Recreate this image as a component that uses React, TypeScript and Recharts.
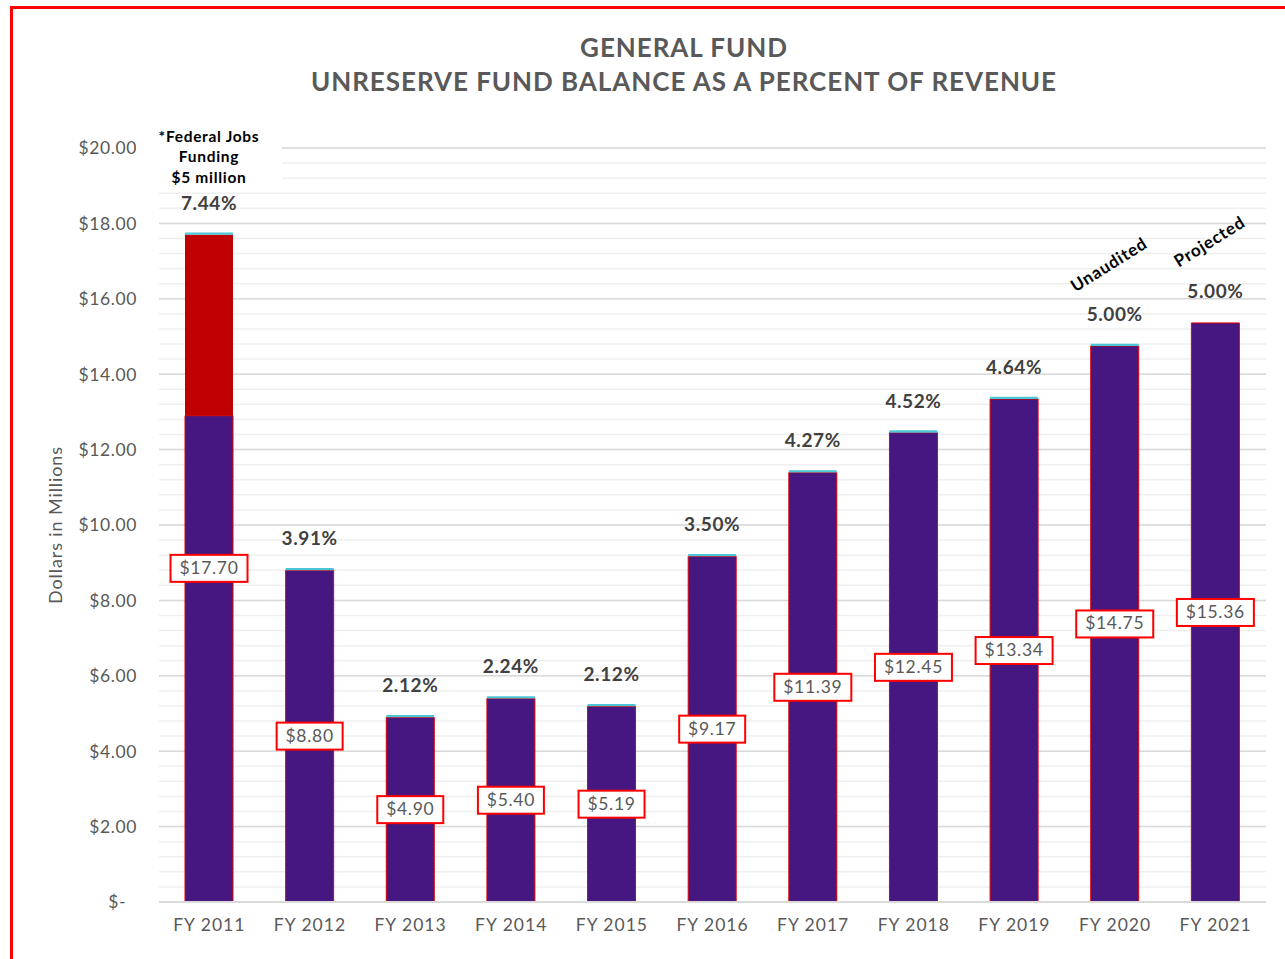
import React from 'react';
import { BarChart, Bar, XAxis, YAxis, CartesianGrid, LabelList } from 'recharts';

const categories = ['FY 2011', 'FY 2012', 'FY 2013', 'FY 2014', 'FY 2015', 'FY 2016', 'FY 2017', 'FY 2018', 'FY 2019', 'FY 2020', 'FY 2021'];
const fundBalance = [12.9, 8.8, 4.9, 5.4, 5.19, 9.17, 11.39, 12.45, 13.34, 14.75, 15.36];
const federalJobs = [4.8, 0, 0, 0, 0, 0, 0, 0, 0, 0, 0];
const topMarker = [0.06, 0.06, 0.06, 0.06, 0.06, 0.06, 0.06, 0.06, 0.06, 0.06, 0];
const balanceLabels = ['$17.70', '$8.80', '$4.90', '$5.40', '$5.19', '$9.17', '$11.39', '$12.45', '$13.34', '$14.75', '$15.36'];
const percentOfRevenue = ['7.44%', '3.91%', '2.12%', '2.24%', '2.12%', '3.50%', '4.27%', '4.52%', '4.64%', '5.00%', '5.00%'];
const notes = [['*Federal Jobs', 'Funding', '$5 million'], [], [], [], [], [], [], [], [], ['Unaudited'], ['Projected']];
const yTicks = [0, 2, 4, 6, 8, 10, 12, 14, 16, 18, 20];
const minorTicks = Array.from({ length: 51 }, (_, i) => Math.round(i * 0.4 * 10) / 10);

const data = categories.map((c, i) => ({
  category: c,
  fund: fundBalance[i],
  federal: federalJobs[i],
  marker: topMarker[i],
}));

const FONT = 'Lato, "DejaVu Sans", sans-serif';

const BarLabels = (props: any) => {
  const vb = props.viewBox && props.viewBox.width !== undefined ? props.viewBox : props;
  const index = props.index;
  const x = Number(vb.x);
  const y = Number(vb.y);
  const width = Number(vb.width);
  const height = Number(vb.height);
  if (index === undefined || isNaN(x)) return null;
  const bottom = Math.max(y, y + height);
  const segTop = Math.min(y, y + height);
  const ppu = (bottom - segTop) / fundBalance[index];
  const total = fundBalance[index] + federalJobs[index];
  const top = bottom - total * ppu;
  const cx = x + width / 2;
  const cy = (top + bottom) / 2;
  const text = balanceLabels[index];
  const bw = text.length * 11 + 11;
  const bh = 27;
  const pctY = top - 30;
  const plotTop = bottom - 20 * ppu;
  const note = notes[index];
  return (
    <g>
      <rect x={cx - bw / 2} y={cy - bh / 2} width={bw} height={bh} fill="#ffffff" stroke="#ff0000" strokeWidth={2} />
      <text x={cx} y={cy + 1} textAnchor="middle" dominantBaseline="middle" fontSize={17.5} letterSpacing={0.7} fill="#595959" fontFamily={FONT}>
        {text}
      </text>
      <text x={cx} y={pctY} textAnchor="middle" dominantBaseline="middle" fontSize={19} letterSpacing={0.6} fontWeight={700} fill="#404040" fontFamily={FONT}>
        {percentOfRevenue[index]}
      </text>
      {note.length === 3 && (
        <g>
          <rect x={cx - 73} y={plotTop - 20} width={146} height={62} fill="#ffffff" />
          {note.map((line, k) => (
            <text key={k} x={cx} y={plotTop - 10 + k * 20.5} textAnchor="middle" dominantBaseline="middle" fontSize={15.5} letterSpacing={0.7} fontWeight={700} fill="#000000" fontFamily={FONT}>
              {line}
            </text>
          ))}
        </g>
      )}
      {note.length === 1 && (
        <text
          x={cx - 5}
          y={pctY - 50}
          textAnchor="middle"
          dominantBaseline="middle"
          fontSize={17}
          letterSpacing={0.8}
          fontWeight={700}
          fill="#000000"
          fontFamily={FONT}
          transform={`rotate(-32 ${cx - 5} ${pctY - 50})`}
        >
          {note[0]}
        </text>
      )}
    </g>
  );
};

const YTick = (props: any) => {
  const { x, y, payload } = props;
  const v = payload.value;
  const label = v === 0 ? '$-' : `$${Number(v).toFixed(2)}`;
  return (
    <text x={v === 0 ? x - 11 : x} y={y + 2} textAnchor="end" dominantBaseline="middle" fontSize={17.5} letterSpacing={0.6} fill="#595959" fontFamily={FONT}>
      {label}
    </text>
  );
};

export default function App() {
  return (
    <div style={{ position: 'fixed', left: 0, top: 0, width: 1285, height: 959, overflow: 'hidden', background: '#ffffff', fontFamily: FONT }}>
      <div style={{ position: 'absolute', left: 10, top: 6, width: 1300, height: 1000, border: '3px solid #ff0000', boxSizing: 'border-box' }} />
      <div style={{ position: 'absolute', left: 84, top: 30, width: 1200, textAlign: 'center', color: '#595959', fontWeight: 700, fontSize: 26, lineHeight: '34px', letterSpacing: 0.95 }}>
        <div>GENERAL FUND</div>
        <div>UNRESERVE FUND BALANCE AS A PERCENT OF REVENUE</div>
      </div>
      <div style={{ position: 'absolute', left: 55, top: 525, transform: 'translate(-50%, -50%) rotate(-90deg)', whiteSpace: 'nowrap', fontSize: 18, letterSpacing: 0.9, color: '#595959' }}>
        Dollars in Millions
      </div>
      <div style={{ position: 'absolute', left: 0, top: 0 }}>
        <BarChart width={1285} height={959} data={data} margin={{ top: 148, right: 19, bottom: 27, left: 8 }} barSize={48} style={{ fontFamily: FONT }}>
          <CartesianGrid vertical={false} horizontalValues={minorTicks} stroke="#efefef" strokeWidth={1.5} />
          <CartesianGrid vertical={false} horizontalValues={yTicks} stroke="#d9d9d9" strokeWidth={1.5} />
          <XAxis
            dataKey="category"
            height={30}
            tickLine={false}
            tickSize={0}
            tickMargin={17}
            axisLine={{ stroke: '#d9d9d9', strokeWidth: 2 }}
            tick={{ fontSize: 17.5, fill: '#595959', fontFamily: FONT, letterSpacing: 1 }}
            interval={0}
          />
          <YAxis
            width={151}
            domain={[0, 20]}
            ticks={yTicks}
            axisLine={false}
            tickLine={false}
            tickSize={0}
            tickMargin={22}
            tick={<YTick />}
            interval={0}
          />
          <Bar dataKey="fund" stackId="a" fill="#461780" stroke="#e00000" strokeWidth={1} isAnimationActive={false}>
            <LabelList dataKey="fund" content={<BarLabels />} />
          </Bar>
          <Bar dataKey="federal" stackId="a" fill="#c00000" isAnimationActive={false} />
          <Bar dataKey="marker" stackId="a" fill="#4cc6d6" isAnimationActive={false} />
        </BarChart>
      </div>
    </div>
  );
}
